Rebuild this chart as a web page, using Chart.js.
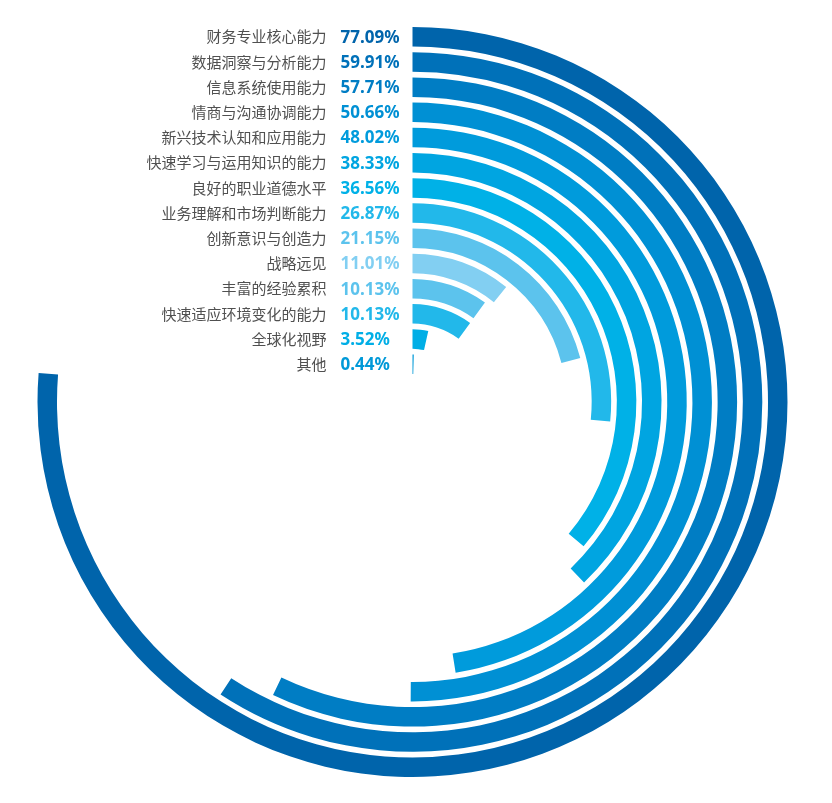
<!doctype html>
<html lang="zh">
  <head>
    <meta charset="utf-8">
    <title>能力分布</title>
    <script src="https://cdn.jsdelivr.net/npm/chart.js@4.4.0/dist/chart.umd.min.js"></script>
    <style>
      html, body { margin: 0; padding: 0; background: #fff; }
      #wrap { width: 832px; height: 803px; position: relative; }
    </style>
  </head>
  <body>
    <div id="wrap">
      <canvas id="myChart"></canvas>
    </div>

    <script>
      // data
      var names = ["财务专业核心能力", "数据洞察与分析能力", "信息系统使用能力", "情商与沟通协调能力",
                   "新兴技术认知和应用能力", "快速学习与运用知识的能力", "良好的职业道德水平",
                   "业务理解和市场判断能力", "创新意识与创造力", "战略远见", "丰富的经验累积",
                   "快速适应环境变化的能力", "全球化视野", "其他"];
      var values = [77.09, 59.91, 57.71, 50.66, 48.02, 38.33, 36.56, 26.87, 21.15, 11.01, 10.13, 10.13, 3.52, 0.44];
      var colors = ["#0064ab", "#0071b9", "#007dc4", "#0090d4", "#009bdc", "#00a5e1", "#00b1e7",
                    "#22b8ea", "#5cc3ed", "#82cff2", "#5cc3ed", "#22b8ea", "#00aee6", "#0099d8"];

      var RING = 19.5, GAP = 5.7;
      var CLEAR = "rgba(0,0,0,0)";

      var datasets = [];
      var ringIdx = [];
      for (var i = 0; i < values.length; i++) {
        ringIdx.push(datasets.length);
        datasets.push({
          data: [values[i], 100 - values[i]],
          backgroundColor: [colors[i], CLEAR],
          borderWidth: 0,
          weight: RING
        });
        if (i < values.length - 1) {
          // blank ring for the white gap
          datasets.push({ data: [100], backgroundColor: [CLEAR], borderWidth: 0, weight: GAP });
        }
      }

      var labelPlugin = {
        id: "ringLabels",
        afterDatasetsDraw: function(chart) {
          var ctx = chart.ctx;
          ctx.save();
          ctx.textBaseline = "middle";
          ringIdx.forEach(function(dsIdx, i) {
            var arc = chart.getDatasetMeta(dsIdx).data[0];
            var p = arc.getProps(["x", "y", "innerRadius", "outerRadius"], true);
            var yy = p.y - (p.innerRadius + p.outerRadius) / 2;
            ctx.font = "15px 'Noto Sans CJK SC'";
            ctx.fillStyle = "#505050";
            ctx.textAlign = "right";
            ctx.fillText(names[i], p.x - 86, yy);
            ctx.font = "bold 17px 'Noto Sans'";
            ctx.fillStyle = colors[i];
            ctx.textAlign = "left";
            ctx.fillText(values[i].toFixed(2) + "%", p.x - 72, yy + 1);
          });
          ctx.restore();
        }
      };

      var ctx = document.getElementById("myChart").getContext("2d");
      var mychart = new Chart(ctx, {
        type: "doughnut",
        data: { labels: ["value", "rest"], datasets: datasets },
        options: {
          responsive: true,
          maintainAspectRatio: false,
          animation: false,
          cutout: 28,
          circumference: 356,
          layout: { padding: { top: 27, bottom: 26, left: 0, right: 7 } },
          plugins: {
            legend: { display: false },
            tooltip: { enabled: false }
          },
          events: []
        },
        plugins: [labelPlugin]
      });
    </script>
  </body>
</html>
